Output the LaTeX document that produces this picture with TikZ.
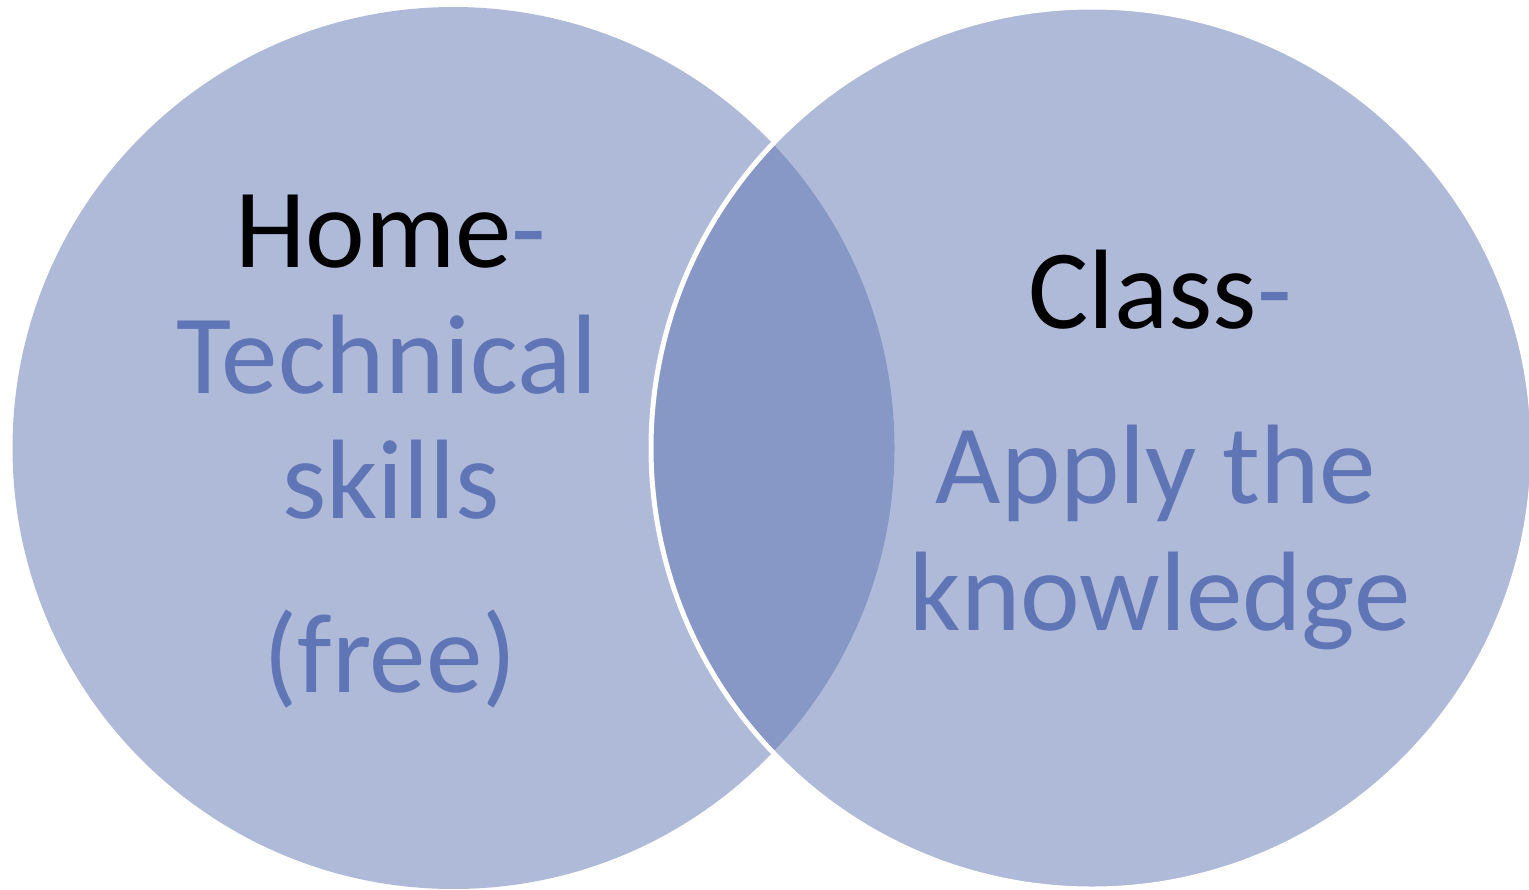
\documentclass[tikz,border=0pt]{standalone}
\usepackage{fontspec}
\setmainfont{Carlito}
\definecolor{vennfill}{RGB}{175,185,216}
\definecolor{venndark}{RGB}{136,152,198}
\definecolor{venntext}{RGB}{96,117,181}
\begin{document}
\begin{tikzpicture}[x=0.5pt,y=-0.5pt]
\tikzstyle{vennlabel}=[anchor=base,inner sep=0pt,font=\fontsize{56.5}{60}\selectfont]
\useasboundingbox (0,0) rectangle (1529,889);
\coordinate (L) at (453.5,448);
\coordinate (R) at (1092,448);
\fill [vennfill] (L) circle (220.5pt);
\fill [vennfill] (R) circle (220.5pt);
\begin{scope}
    \clip (L) circle (220.5pt);
    \fill [venndark] (R) circle (220.5pt);
\end{scope}
\draw [white,line width=2.5pt] (R) circle (220.5pt);
\node[vennlabel] (home) at (391,267) {Home\textcolor{venntext}{-}};
\node[vennlabel,venntext] (tech) at (387,393) {Technical};
\node[vennlabel,venntext] (skills) at (391,518) {skills};
\node[vennlabel,venntext] (free) at (390,692) {(free)};
\node[vennlabel] (class) at (1160,328) {Class\textcolor{venntext}{-}};
\node[vennlabel,venntext] (apply) at (1156,503) {Apply the};
\node[vennlabel,venntext] (know) at (1160,630) {knowledge};
\end{tikzpicture}
\end{document}
